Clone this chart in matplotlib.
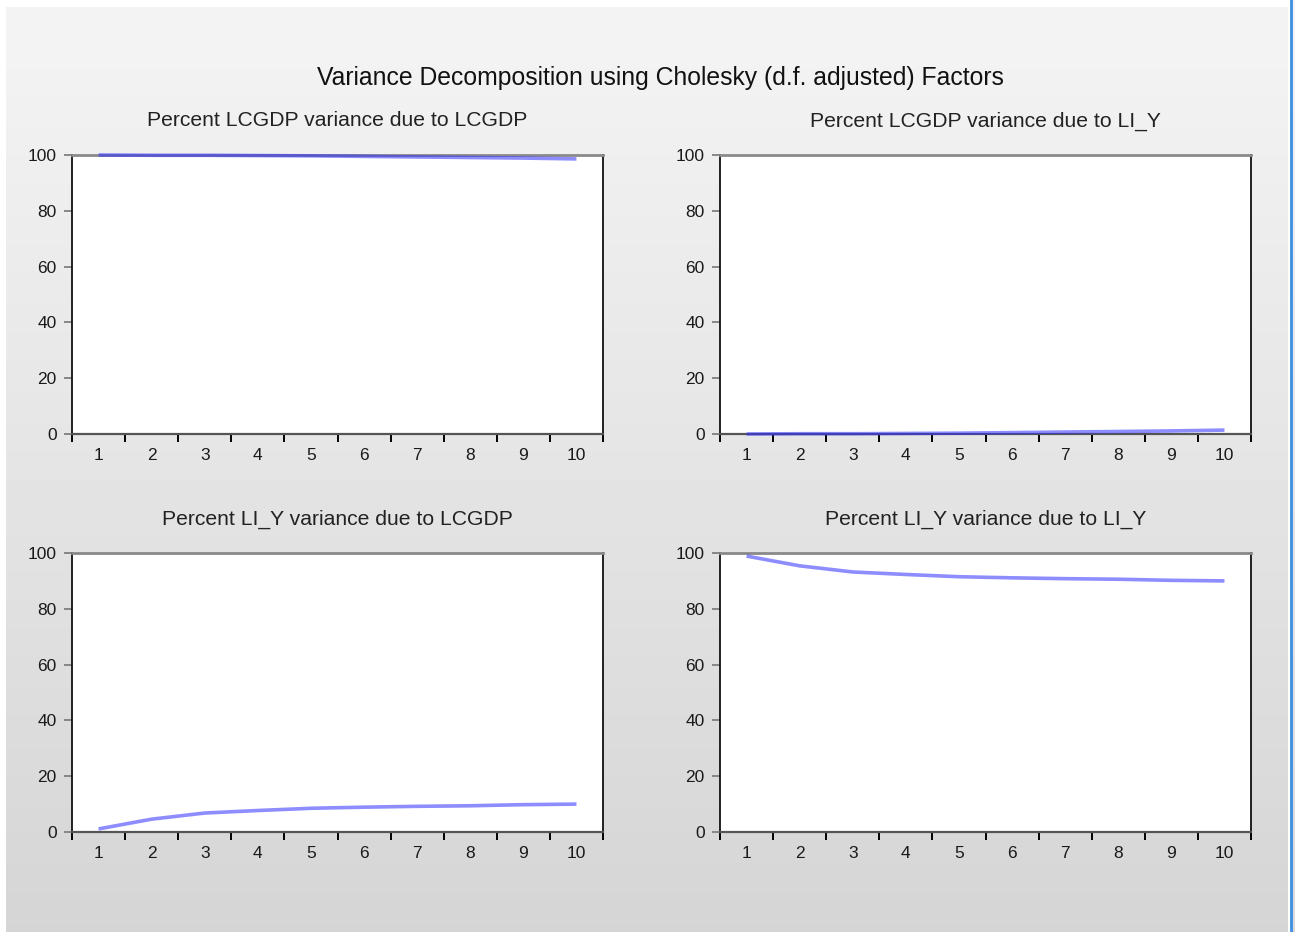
import numpy as np
import matplotlib
matplotlib.use("Agg")
import matplotlib.pyplot as plt
from matplotlib.ticker import FixedLocator, NullFormatter, FixedFormatter

plt.rcParams['font.family'] = ['Liberation Sans', 'DejaVu Sans']

periods = [1, 2, 3, 4, 5, 6, 7, 8, 9, 10]
lcgdp_due_lcgdp = [100.0, 99.9, 99.9, 99.8, 99.7, 99.5, 99.3, 99.1, 98.9, 98.6]
lcgdp_due_liy = [0.0, 0.1, 0.1, 0.2, 0.3, 0.5, 0.7, 0.9, 1.1, 1.4]
liy_due_lcgdp = [1.1, 4.6, 6.8, 7.7, 8.5, 8.9, 9.2, 9.4, 9.8, 10.0]
liy_due_liy = [98.9, 95.4, 93.2, 92.3, 91.5, 91.1, 90.8, 90.6, 90.2, 90.0]

titles = ["Percent LCGDP variance due to LCGDP", "Percent LCGDP variance due to LI_Y",
          "Percent LI_Y variance due to LCGDP", "Percent LI_Y variance due to LI_Y"]
series = [lcgdp_due_lcgdp, lcgdp_due_liy, liy_due_lcgdp, liy_due_liy]
yticks = [0, 20, 40, 60, 80, 100]
suptitle = "Variance Decomposition using Cholesky (d.f. adjusted) Factors"

W, H = 1295, 932
fig = plt.figure(figsize=(W / 100, H / 100), dpi=100)
fig.patch.set_facecolor('white')

# background gradient panel
bg = fig.add_axes([0, 0, 1, 1], zorder=-10)
bg.axis('off')
grad = np.linspace(0.957, 0.835, 256).reshape(-1, 1)
bg.imshow(grad, extent=[6, 1288, H, 7], cmap='gray', vmin=0, vmax=1, aspect='auto')
bg.imshow(np.linspace(0.95, 0.85, 256).reshape(-1, 1), extent=[1292, W, H, 0],
          cmap='gray', vmin=0, vmax=1, aspect='auto')
bg.plot([1290.5, 1290.5], [0, H], color='#3b8fe0', lw=2)
bg.set_xlim(0, W)
bg.set_ylim(H, 0)

fig.text(660 / W, 1 - 78 / H, suptitle, ha='center', va='center', fontsize=17.8, color='#111111')

boxes = [(72, 155), (720, 155), (72, 553), (720, 553)]
aw, ah = 531, 279
for (x0, y0), ttl, vals in zip(boxes, titles, series):
    ax = fig.add_axes([x0 / W, 1 - (y0 + ah) / H, aw / W, ah / H])
    ax.set_facecolor('white')
    ax.plot(periods, vals, color='#3030ff', alpha=0.55, lw=2.6, solid_capstyle='butt',
            clip_on=False, zorder=3)
    ax.set_xlim(0.5, 10.5)
    ax.set_ylim(0, 100)
    ax.set_yticks(yticks)
    ax.set_yticklabels([str(v) for v in yticks])
    ax.xaxis.set_major_locator(FixedLocator(np.arange(0.5, 11, 1.0)))
    ax.xaxis.set_major_formatter(NullFormatter())
    ax.xaxis.set_minor_locator(FixedLocator(periods))
    ax.xaxis.set_minor_formatter(FixedFormatter([str(p) for p in periods]))
    ax.tick_params(axis='x', which='major', direction='out', length=6, width=1.4, color='black')
    ax.tick_params(axis='x', which='minor', length=0, pad=10, labelsize=12.5, labelcolor='#1a1a1a')
    ax.tick_params(axis='y', direction='out', length=5.5, width=1.2, color='#777777',
                   labelsize=12.5, labelcolor='#1a1a1a', pad=5.5)
    for s in ['left', 'right']:
        ax.spines[s].set_color('#111111')
        ax.spines[s].set_linewidth(1.3)
    ax.spines['top'].set_color('#8a8a8a')
    ax.spines['top'].set_linewidth(2)
    ax.spines['bottom'].set_color('#555555')
    ax.spines['bottom'].set_linewidth(1.6)
    fig.text((x0 + aw / 2) / W, 1 - (y0 - 34) / H, ttl, ha='center', va='center',
             fontsize=15.2, color='#222222')

fig.savefig('out.png', dpi=100)
